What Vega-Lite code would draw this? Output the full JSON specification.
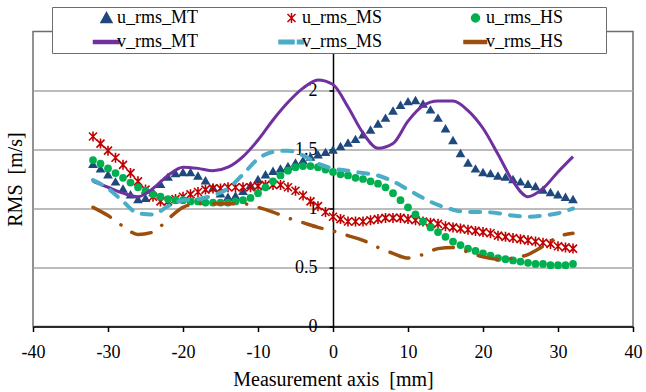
{
  "$schema": "https://vega.github.io/schema/vega-lite/v6.json",
  "autosize": "none",
  "width": 600,
  "height": 295,
  "padding": {"left": 33, "top": 31.5, "right": 13, "bottom": 65.5},
  "background": "white",
  "config": {
    "view": {"stroke": "#6d6d6d", "strokeWidth": 1.5},
    "font": "'Liberation Serif', 'Times New Roman', serif"
  },
  "data": {
    "values": [
      {"series": "u_rms_MT", "x": -32, "rms": 1.38}, {"series": "u_rms_MT", "x": -31, "rms": 1.34}, {"series": "u_rms_MT", "x": -30, "rms": 1.29}, {"series": "u_rms_MT", "x": -29, "rms": 1.23}, {"series": "u_rms_MT", "x": -28, "rms": 1.17},
      {"series": "u_rms_MT", "x": -27, "rms": 1.12}, {"series": "u_rms_MT", "x": -26, "rms": 1.08}, {"series": "u_rms_MT", "x": -25, "rms": 1.09}, {"series": "u_rms_MT", "x": -24, "rms": 1.14}, {"series": "u_rms_MT", "x": -23, "rms": 1.21},
      {"series": "u_rms_MT", "x": -22, "rms": 1.27}, {"series": "u_rms_MT", "x": -21, "rms": 1.30}, {"series": "u_rms_MT", "x": -20, "rms": 1.31}, {"series": "u_rms_MT", "x": -19, "rms": 1.31}, {"series": "u_rms_MT", "x": -18, "rms": 1.28},
      {"series": "u_rms_MT", "x": -17, "rms": 1.24}, {"series": "u_rms_MT", "x": -16, "rms": 1.18}, {"series": "u_rms_MT", "x": -15, "rms": 1.13}, {"series": "u_rms_MT", "x": -14, "rms": 1.10}, {"series": "u_rms_MT", "x": -13, "rms": 1.11},
      {"series": "u_rms_MT", "x": -12, "rms": 1.15}, {"series": "u_rms_MT", "x": -11, "rms": 1.20}, {"series": "u_rms_MT", "x": -10, "rms": 1.25}, {"series": "u_rms_MT", "x": -9, "rms": 1.29}, {"series": "u_rms_MT", "x": -8, "rms": 1.32},
      {"series": "u_rms_MT", "x": -7, "rms": 1.34}, {"series": "u_rms_MT", "x": -6, "rms": 1.36}, {"series": "u_rms_MT", "x": -5, "rms": 1.39}, {"series": "u_rms_MT", "x": -4, "rms": 1.41}, {"series": "u_rms_MT", "x": -3, "rms": 1.44},
      {"series": "u_rms_MT", "x": -2, "rms": 1.46}, {"series": "u_rms_MT", "x": -1, "rms": 1.48}, {"series": "u_rms_MT", "x": 0, "rms": 1.50}, {"series": "u_rms_MT", "x": 1, "rms": 1.53}, {"series": "u_rms_MT", "x": 2, "rms": 1.56},
      {"series": "u_rms_MT", "x": 3, "rms": 1.59}, {"series": "u_rms_MT", "x": 4, "rms": 1.63}, {"series": "u_rms_MT", "x": 5, "rms": 1.67}, {"series": "u_rms_MT", "x": 6, "rms": 1.72}, {"series": "u_rms_MT", "x": 7, "rms": 1.77},
      {"series": "u_rms_MT", "x": 8, "rms": 1.83}, {"series": "u_rms_MT", "x": 9, "rms": 1.88}, {"series": "u_rms_MT", "x": 10, "rms": 1.91}, {"series": "u_rms_MT", "x": 11, "rms": 1.92}, {"series": "u_rms_MT", "x": 12, "rms": 1.89},
      {"series": "u_rms_MT", "x": 13, "rms": 1.84}, {"series": "u_rms_MT", "x": 14, "rms": 1.77}, {"series": "u_rms_MT", "x": 15, "rms": 1.68}, {"series": "u_rms_MT", "x": 16, "rms": 1.58}, {"series": "u_rms_MT", "x": 17, "rms": 1.47},
      {"series": "u_rms_MT", "x": 18, "rms": 1.39}, {"series": "u_rms_MT", "x": 19, "rms": 1.34}, {"series": "u_rms_MT", "x": 20, "rms": 1.31}, {"series": "u_rms_MT", "x": 21, "rms": 1.30}, {"series": "u_rms_MT", "x": 22, "rms": 1.28},
      {"series": "u_rms_MT", "x": 23, "rms": 1.27}, {"series": "u_rms_MT", "x": 24, "rms": 1.25}, {"series": "u_rms_MT", "x": 25, "rms": 1.23}, {"series": "u_rms_MT", "x": 26, "rms": 1.21}, {"series": "u_rms_MT", "x": 27, "rms": 1.19},
      {"series": "u_rms_MT", "x": 28, "rms": 1.16}, {"series": "u_rms_MT", "x": 29, "rms": 1.14}, {"series": "u_rms_MT", "x": 30, "rms": 1.12}, {"series": "u_rms_MT", "x": 31, "rms": 1.10}, {"series": "u_rms_MT", "x": 32, "rms": 1.08},

      {"series": "u_rms_MS", "x": -32, "rms": 1.61}, {"series": "u_rms_MS", "x": -31, "rms": 1.55}, {"series": "u_rms_MS", "x": -30, "rms": 1.49}, {"series": "u_rms_MS", "x": -29, "rms": 1.43}, {"series": "u_rms_MS", "x": -28, "rms": 1.37},
      {"series": "u_rms_MS", "x": -27, "rms": 1.30}, {"series": "u_rms_MS", "x": -26, "rms": 1.23}, {"series": "u_rms_MS", "x": -25, "rms": 1.16}, {"series": "u_rms_MS", "x": -24, "rms": 1.10}, {"series": "u_rms_MS", "x": -23, "rms": 1.06},
      {"series": "u_rms_MS", "x": -22, "rms": 1.06}, {"series": "u_rms_MS", "x": -21, "rms": 1.08}, {"series": "u_rms_MS", "x": -20, "rms": 1.10}, {"series": "u_rms_MS", "x": -19, "rms": 1.12}, {"series": "u_rms_MS", "x": -18, "rms": 1.14},
      {"series": "u_rms_MS", "x": -17, "rms": 1.16}, {"series": "u_rms_MS", "x": -16, "rms": 1.17}, {"series": "u_rms_MS", "x": -15, "rms": 1.17}, {"series": "u_rms_MS", "x": -14, "rms": 1.18}, {"series": "u_rms_MS", "x": -13, "rms": 1.18},
      {"series": "u_rms_MS", "x": -12, "rms": 1.18}, {"series": "u_rms_MS", "x": -11, "rms": 1.18}, {"series": "u_rms_MS", "x": -10, "rms": 1.19}, {"series": "u_rms_MS", "x": -9, "rms": 1.20}, {"series": "u_rms_MS", "x": -8, "rms": 1.20},
      {"series": "u_rms_MS", "x": -7, "rms": 1.20}, {"series": "u_rms_MS", "x": -6, "rms": 1.18}, {"series": "u_rms_MS", "x": -5, "rms": 1.15}, {"series": "u_rms_MS", "x": -4, "rms": 1.11}, {"series": "u_rms_MS", "x": -3, "rms": 1.06},
      {"series": "u_rms_MS", "x": -2, "rms": 1.02}, {"series": "u_rms_MS", "x": -1, "rms": 0.97}, {"series": "u_rms_MS", "x": 0, "rms": 0.93}, {"series": "u_rms_MS", "x": 1, "rms": 0.91}, {"series": "u_rms_MS", "x": 2, "rms": 0.89},
      {"series": "u_rms_MS", "x": 3, "rms": 0.89}, {"series": "u_rms_MS", "x": 4, "rms": 0.89}, {"series": "u_rms_MS", "x": 5, "rms": 0.90}, {"series": "u_rms_MS", "x": 6, "rms": 0.91}, {"series": "u_rms_MS", "x": 7, "rms": 0.92},
      {"series": "u_rms_MS", "x": 8, "rms": 0.92}, {"series": "u_rms_MS", "x": 9, "rms": 0.92}, {"series": "u_rms_MS", "x": 10, "rms": 0.91}, {"series": "u_rms_MS", "x": 11, "rms": 0.90}, {"series": "u_rms_MS", "x": 12, "rms": 0.89},
      {"series": "u_rms_MS", "x": 13, "rms": 0.88}, {"series": "u_rms_MS", "x": 14, "rms": 0.87}, {"series": "u_rms_MS", "x": 15, "rms": 0.85}, {"series": "u_rms_MS", "x": 16, "rms": 0.84}, {"series": "u_rms_MS", "x": 17, "rms": 0.83},
      {"series": "u_rms_MS", "x": 18, "rms": 0.82}, {"series": "u_rms_MS", "x": 19, "rms": 0.81}, {"series": "u_rms_MS", "x": 20, "rms": 0.80}, {"series": "u_rms_MS", "x": 21, "rms": 0.79}, {"series": "u_rms_MS", "x": 22, "rms": 0.77},
      {"series": "u_rms_MS", "x": 23, "rms": 0.76}, {"series": "u_rms_MS", "x": 24, "rms": 0.75}, {"series": "u_rms_MS", "x": 25, "rms": 0.74}, {"series": "u_rms_MS", "x": 26, "rms": 0.73}, {"series": "u_rms_MS", "x": 27, "rms": 0.72},
      {"series": "u_rms_MS", "x": 28, "rms": 0.71}, {"series": "u_rms_MS", "x": 29, "rms": 0.70}, {"series": "u_rms_MS", "x": 30, "rms": 0.68}, {"series": "u_rms_MS", "x": 31, "rms": 0.67}, {"series": "u_rms_MS", "x": 32, "rms": 0.66},

      {"series": "u_rms_HS", "x": -32, "rms": 1.41}, {"series": "u_rms_HS", "x": -31, "rms": 1.38}, {"series": "u_rms_HS", "x": -30, "rms": 1.34}, {"series": "u_rms_HS", "x": -29, "rms": 1.30}, {"series": "u_rms_HS", "x": -28, "rms": 1.26},
      {"series": "u_rms_HS", "x": -27, "rms": 1.22}, {"series": "u_rms_HS", "x": -26, "rms": 1.18}, {"series": "u_rms_HS", "x": -25, "rms": 1.15}, {"series": "u_rms_HS", "x": -24, "rms": 1.12}, {"series": "u_rms_HS", "x": -23, "rms": 1.10},
      {"series": "u_rms_HS", "x": -22, "rms": 1.08}, {"series": "u_rms_HS", "x": -21, "rms": 1.07}, {"series": "u_rms_HS", "x": -20, "rms": 1.07}, {"series": "u_rms_HS", "x": -19, "rms": 1.06}, {"series": "u_rms_HS", "x": -18, "rms": 1.06},
      {"series": "u_rms_HS", "x": -17, "rms": 1.05}, {"series": "u_rms_HS", "x": -16, "rms": 1.05}, {"series": "u_rms_HS", "x": -15, "rms": 1.05}, {"series": "u_rms_HS", "x": -14, "rms": 1.05}, {"series": "u_rms_HS", "x": -13, "rms": 1.06},
      {"series": "u_rms_HS", "x": -12, "rms": 1.07}, {"series": "u_rms_HS", "x": -11, "rms": 1.09}, {"series": "u_rms_HS", "x": -10, "rms": 1.13}, {"series": "u_rms_HS", "x": -9, "rms": 1.18}, {"series": "u_rms_HS", "x": -8, "rms": 1.23},
      {"series": "u_rms_HS", "x": -7, "rms": 1.28}, {"series": "u_rms_HS", "x": -6, "rms": 1.32}, {"series": "u_rms_HS", "x": -5, "rms": 1.35}, {"series": "u_rms_HS", "x": -4, "rms": 1.36}, {"series": "u_rms_HS", "x": -3, "rms": 1.36},
      {"series": "u_rms_HS", "x": -2, "rms": 1.35}, {"series": "u_rms_HS", "x": -1, "rms": 1.33}, {"series": "u_rms_HS", "x": 0, "rms": 1.31}, {"series": "u_rms_HS", "x": 1, "rms": 1.29}, {"series": "u_rms_HS", "x": 2, "rms": 1.28},
      {"series": "u_rms_HS", "x": 3, "rms": 1.26}, {"series": "u_rms_HS", "x": 4, "rms": 1.25}, {"series": "u_rms_HS", "x": 5, "rms": 1.23}, {"series": "u_rms_HS", "x": 6, "rms": 1.21}, {"series": "u_rms_HS", "x": 7, "rms": 1.18},
      {"series": "u_rms_HS", "x": 8, "rms": 1.13}, {"series": "u_rms_HS", "x": 9, "rms": 1.07}, {"series": "u_rms_HS", "x": 10, "rms": 1.01}, {"series": "u_rms_HS", "x": 11, "rms": 0.95}, {"series": "u_rms_HS", "x": 12, "rms": 0.89},
      {"series": "u_rms_HS", "x": 13, "rms": 0.84}, {"series": "u_rms_HS", "x": 14, "rms": 0.80}, {"series": "u_rms_HS", "x": 15, "rms": 0.76}, {"series": "u_rms_HS", "x": 16, "rms": 0.72}, {"series": "u_rms_HS", "x": 17, "rms": 0.69},
      {"series": "u_rms_HS", "x": 18, "rms": 0.66}, {"series": "u_rms_HS", "x": 19, "rms": 0.64}, {"series": "u_rms_HS", "x": 20, "rms": 0.62}, {"series": "u_rms_HS", "x": 21, "rms": 0.60}, {"series": "u_rms_HS", "x": 22, "rms": 0.58},
      {"series": "u_rms_HS", "x": 23, "rms": 0.57}, {"series": "u_rms_HS", "x": 24, "rms": 0.56}, {"series": "u_rms_HS", "x": 25, "rms": 0.55}, {"series": "u_rms_HS", "x": 26, "rms": 0.54}, {"series": "u_rms_HS", "x": 27, "rms": 0.53},
      {"series": "u_rms_HS", "x": 28, "rms": 0.53}, {"series": "u_rms_HS", "x": 29, "rms": 0.52}, {"series": "u_rms_HS", "x": 30, "rms": 0.52}, {"series": "u_rms_HS", "x": 31, "rms": 0.52}, {"series": "u_rms_HS", "x": 32, "rms": 0.53},

      {"series": "v_rms_MT", "x": -32, "rms": 1.23}, {"series": "v_rms_MT", "x": -30, "rms": 1.18}, {"series": "v_rms_MT", "x": -28, "rms": 1.13}, {"series": "v_rms_MT", "x": -26, "rms": 1.10}, {"series": "v_rms_MT", "x": -24, "rms": 1.17},
      {"series": "v_rms_MT", "x": -22, "rms": 1.28}, {"series": "v_rms_MT", "x": -20, "rms": 1.35}, {"series": "v_rms_MT", "x": -18, "rms": 1.34}, {"series": "v_rms_MT", "x": -16, "rms": 1.32}, {"series": "v_rms_MT", "x": -14, "rms": 1.35},
      {"series": "v_rms_MT", "x": -12, "rms": 1.44}, {"series": "v_rms_MT", "x": -10, "rms": 1.58}, {"series": "v_rms_MT", "x": -8, "rms": 1.75}, {"series": "v_rms_MT", "x": -6, "rms": 1.90}, {"series": "v_rms_MT", "x": -4, "rms": 2.02},
      {"series": "v_rms_MT", "x": -2, "rms": 2.09}, {"series": "v_rms_MT", "x": 0, "rms": 2.05}, {"series": "v_rms_MT", "x": 2, "rms": 1.86}, {"series": "v_rms_MT", "x": 4, "rms": 1.64}, {"series": "v_rms_MT", "x": 6, "rms": 1.51},
      {"series": "v_rms_MT", "x": 8, "rms": 1.55}, {"series": "v_rms_MT", "x": 10, "rms": 1.74}, {"series": "v_rms_MT", "x": 12, "rms": 1.87}, {"series": "v_rms_MT", "x": 14, "rms": 1.91}, {"series": "v_rms_MT", "x": 16, "rms": 1.91},
      {"series": "v_rms_MT", "x": 18, "rms": 1.83}, {"series": "v_rms_MT", "x": 20, "rms": 1.68}, {"series": "v_rms_MT", "x": 22, "rms": 1.46}, {"series": "v_rms_MT", "x": 24, "rms": 1.23}, {"series": "v_rms_MT", "x": 26, "rms": 1.10},
      {"series": "v_rms_MT", "x": 28, "rms": 1.17}, {"series": "v_rms_MT", "x": 30, "rms": 1.31}, {"series": "v_rms_MT", "x": 32, "rms": 1.44},

      {"series": "v_rms_MS", "x": -32, "rms": 1.24}, {"series": "v_rms_MS", "x": -30, "rms": 1.17}, {"series": "v_rms_MS", "x": -28, "rms": 1.06}, {"series": "v_rms_MS", "x": -26, "rms": 0.96}, {"series": "v_rms_MS", "x": -24, "rms": 0.95},
      {"series": "v_rms_MS", "x": -22, "rms": 1.02}, {"series": "v_rms_MS", "x": -20, "rms": 1.07}, {"series": "v_rms_MS", "x": -18, "rms": 1.08}, {"series": "v_rms_MS", "x": -16, "rms": 1.11}, {"series": "v_rms_MS", "x": -14, "rms": 1.17},
      {"series": "v_rms_MS", "x": -12, "rms": 1.29}, {"series": "v_rms_MS", "x": -10, "rms": 1.42}, {"series": "v_rms_MS", "x": -8, "rms": 1.48}, {"series": "v_rms_MS", "x": -6, "rms": 1.49}, {"series": "v_rms_MS", "x": -4, "rms": 1.45},
      {"series": "v_rms_MS", "x": -2, "rms": 1.38}, {"series": "v_rms_MS", "x": 0, "rms": 1.34}, {"series": "v_rms_MS", "x": 2, "rms": 1.32}, {"series": "v_rms_MS", "x": 4, "rms": 1.30}, {"series": "v_rms_MS", "x": 6, "rms": 1.28},
      {"series": "v_rms_MS", "x": 8, "rms": 1.23}, {"series": "v_rms_MS", "x": 10, "rms": 1.16}, {"series": "v_rms_MS", "x": 12, "rms": 1.09}, {"series": "v_rms_MS", "x": 14, "rms": 1.03}, {"series": "v_rms_MS", "x": 16, "rms": 0.99},
      {"series": "v_rms_MS", "x": 18, "rms": 0.97}, {"series": "v_rms_MS", "x": 20, "rms": 0.97}, {"series": "v_rms_MS", "x": 22, "rms": 0.96}, {"series": "v_rms_MS", "x": 24, "rms": 0.94}, {"series": "v_rms_MS", "x": 26, "rms": 0.93},
      {"series": "v_rms_MS", "x": 28, "rms": 0.94}, {"series": "v_rms_MS", "x": 30, "rms": 0.96}, {"series": "v_rms_MS", "x": 32, "rms": 1.00},

      {"series": "v_rms_HS", "x": -32, "rms": 1.01}, {"series": "v_rms_HS", "x": -30, "rms": 0.94}, {"series": "v_rms_HS", "x": -28, "rms": 0.85}, {"series": "v_rms_HS", "x": -26, "rms": 0.78}, {"series": "v_rms_HS", "x": -24, "rms": 0.80},
      {"series": "v_rms_HS", "x": -22, "rms": 0.91}, {"series": "v_rms_HS", "x": -20, "rms": 1.01}, {"series": "v_rms_HS", "x": -18, "rms": 1.04}, {"series": "v_rms_HS", "x": -16, "rms": 1.04}, {"series": "v_rms_HS", "x": -14, "rms": 1.04},
      {"series": "v_rms_HS", "x": -12, "rms": 1.04}, {"series": "v_rms_HS", "x": -10, "rms": 1.01}, {"series": "v_rms_HS", "x": -8, "rms": 0.97}, {"series": "v_rms_HS", "x": -6, "rms": 0.92}, {"series": "v_rms_HS", "x": -4, "rms": 0.88},
      {"series": "v_rms_HS", "x": -2, "rms": 0.84}, {"series": "v_rms_HS", "x": 0, "rms": 0.81}, {"series": "v_rms_HS", "x": 2, "rms": 0.77}, {"series": "v_rms_HS", "x": 4, "rms": 0.73}, {"series": "v_rms_HS", "x": 6, "rms": 0.67},
      {"series": "v_rms_HS", "x": 8, "rms": 0.62}, {"series": "v_rms_HS", "x": 10, "rms": 0.58}, {"series": "v_rms_HS", "x": 12, "rms": 0.61}, {"series": "v_rms_HS", "x": 14, "rms": 0.66}, {"series": "v_rms_HS", "x": 16, "rms": 0.67},
      {"series": "v_rms_HS", "x": 18, "rms": 0.63}, {"series": "v_rms_HS", "x": 20, "rms": 0.59}, {"series": "v_rms_HS", "x": 22, "rms": 0.57}, {"series": "v_rms_HS", "x": 24, "rms": 0.58}, {"series": "v_rms_HS", "x": 26, "rms": 0.61},
      {"series": "v_rms_HS", "x": 28, "rms": 0.68}, {"series": "v_rms_HS", "x": 30, "rms": 0.76}, {"series": "v_rms_HS", "x": 32, "rms": 0.79}
    ]
  },
  "encoding": {
    "x": {
      "field": "x",
      "type": "quantitative",
      "scale": {"domain": [-40, 40], "nice": false, "zero": false},
      "axis": {
        "title": "Measurement axis\u00a0 [mm]",
        "values": [-40, -30, -20, -10, 0, 10, 20, 30, 40],
        "labelExpr": "'' + datum.value",
        "grid": false,
        "domainColor": "black",
        "domainWidth": 1.5,
        "tickColor": "black",
        "tickWidth": 1.5,
        "tickSize": 5,
        "labelFont": "'Liberation Serif', 'Times New Roman', serif",
        "labelFontSize": 18,
        "labelColor": "black",
        "labelPadding": 12,
        "labelFlush": false,
        "labelOverlap": false,
        "titleFont": "'Liberation Serif', 'Times New Roman', serif",
        "titleFontSize": 20,
        "titleFontWeight": "normal",
        "titleColor": "black",
        "titlePadding": 8
      }
    },
    "y": {
      "field": "rms",
      "type": "quantitative",
      "scale": {"domain": [0, 2.5], "nice": false},
      "axis": null
    },
    "color": {
      "field": "series",
      "type": "nominal",
      "scale": {
        "domain": ["u_rms_MT", "u_rms_MS", "u_rms_HS", "v_rms_MT", "v_rms_MS", "v_rms_HS"],
        "range": ["#1F497D", "#C00000", "#00B050", "#7030A0", "#4BACC6", "#9C4F0C"]
      },
      "legend": {
        "title": null,
        "orient": "none",
        "legendX": 19,
        "legendY": -24.5,
        "direction": "horizontal",
        "columns": 3,
        "columnPadding": 0,
        "rowPadding": 6,
        "padding": 2,
        "symbolOffset": 43.5,
        "labelOffset": 1.5,
        "symbolSize": 100,
        "symbolStrokeWidth": 1.5,
        "labelFont": "'Liberation Serif', 'Times New Roman', serif",
        "labelFontSize": 18,
        "labelColor": "black",
        "labelLimit": 300,
        "labelExpr": "datum.label + '\u00a0\u00a0\u00a0\u00a0\u00a0\u00a0\u00a0\u00a0\u00a0\u200b'",
        "fillColor": "white",
        "strokeColor": "#6d6d6d",
        "encode": {
          "symbols": {
            "update": {
              "shape": {"signal": "datum.value === 'u_rms_MT' ? 'M0,-1.1L1.1,0.9L-1.1,0.9Z' : datum.value === 'u_rms_MS' ? 'M-0.8,-0.8L0.8,0.8M-0.8,0.8L0.8,-0.8M0,-1L0,1' : datum.value === 'u_rms_HS' ? 'M-0.8,0A0.8,0.8,0,1,1,0.8,0A0.8,0.8,0,1,1,-0.8,0Z' : datum.value === 'v_rms_MS' ? 'M-2.5,-0.35H0.5V0.35H-2.5ZM1.2,-0.35H2.4V0.35H1.2Z' : datum.value === 'v_rms_HS' ? 'M-2.3,-0.3H2.2V0.3H-2.3Z' : 'M-2.6,-0.3H2.5V0.3H-2.6Z'"},
              "fill": {"scale": "color", "field": "value"},
              "stroke": {"scale": "color", "field": "value"},
              "opacity": {"value": 1}
            }
          }
        }
      }
    }
  },
  "resolve": {"axis": {"y": "independent"}},
  "layer": [
    {
      "transform": [{"filter": "datum.series === 'u_rms_MT'"}],
      "mark": {"type": "point", "shape": "triangle-up", "filled": true, "size": 95, "opacity": 1},
      "encoding": {
        "y": {
          "field": "rms",
          "type": "quantitative",
          "scale": {"domain": [0, 2.5], "nice": false},
          "axis": {
            "orient": "left",
            "title": "RMS\u00a0 [m/s]",
            "labels": false,
            "ticks": false,
            "domain": false,
            "grid": false,
            "titleFont": "'Liberation Serif', 'Times New Roman', serif",
            "titleFontSize": 20,
            "titleFontWeight": "normal",
            "titleColor": "black",
            "titlePadding": 8
          }
        }
      }
    },
    {
      "transform": [{"filter": "datum.series === 'u_rms_MS'"}],
      "mark": {"type": "point", "shape": "M-0.8,-0.8L0.8,0.8M-0.8,0.8L0.8,-0.8M0,-1L0,1", "filled": false, "size": 100, "strokeWidth": 1.6, "opacity": 1},
      "encoding": {
        "y": {
          "field": "rms",
          "type": "quantitative",
          "scale": {"domain": [0, 2.5], "nice": false},
          "axis": {
            "orient": "left",
            "offset": -300,
            "title": null,
            "values": [0, 0.5, 1, 1.5, 2],
            "labelExpr": "'' + datum.value",
            "grid": true,
            "gridColor": "#A6A6A6",
            "gridWidth": 1.5,
            "domainColor": "black",
            "domainWidth": 1.5,
            "tickColor": "black",
            "tickWidth": 1.5,
            "tickSize": 4,
            "labelPadding": 12,
            "labelFont": "'Liberation Serif', 'Times New Roman', serif",
            "labelFontSize": 18,
            "labelColor": "black",
            "labelOverlap": false
          }
        }
      }
    },
    {
      "transform": [{"filter": "datum.series === 'u_rms_HS'"}],
      "mark": {"type": "point", "shape": "circle", "filled": true, "size": 60, "opacity": 1}
    },
    {
      "transform": [{"filter": "datum.series === 'v_rms_MT'"}],
      "mark": {"type": "line", "interpolate": "monotone", "strokeWidth": 3}
    },
    {
      "transform": [{"filter": "datum.series === 'v_rms_MS'"}],
      "mark": {"type": "line", "interpolate": "monotone", "strokeWidth": 4, "strokeCap": "round", "strokeDash": [10, 10]}
    },
    {
      "transform": [{"filter": "datum.series === 'v_rms_HS'"}],
      "mark": {"type": "line", "interpolate": "monotone", "strokeWidth": 3.5, "strokeCap": "round", "strokeDash": [20, 13, 0.1, 13]}
    }
  ]
}
